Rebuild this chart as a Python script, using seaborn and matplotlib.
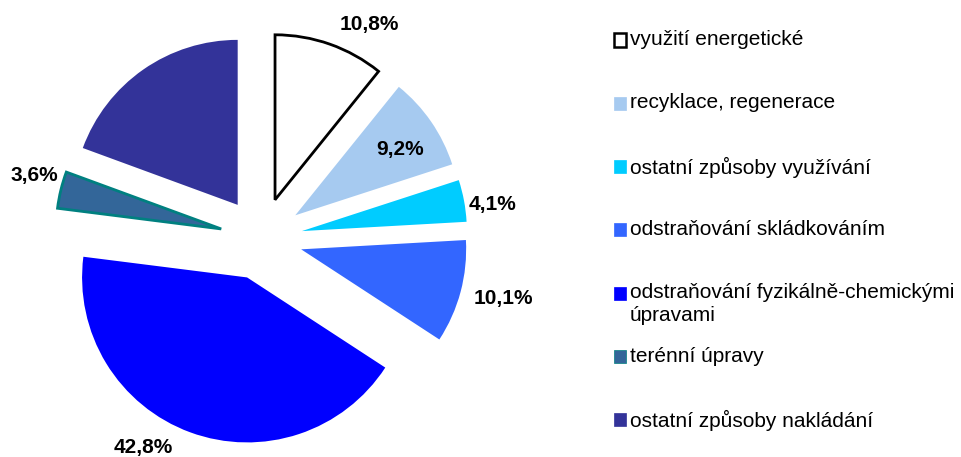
import matplotlib
matplotlib.use("Agg")
import matplotlib.pyplot as plt
import seaborn as sns
from matplotlib.patches import Rectangle

# Data
kategorie = ["využití energetické", "recyklace, regenerace", "ostatní způsoby využívání",
             "odstraňování skládkováním", "odstraňování fyzikálně-chemickými\núpravami",
             "terénní úpravy", "ostatní způsoby nakládání"]
podil = [10.8, 9.2, 4.1, 10.1, 42.8, 3.6, 19.4]
popisky = ["10,8%", "9,2%", "4,1%", "10,1%", "42,8%", "3,6%", ""]
barvy = ["#FFFFFF", "#A6CAF0", "#00CCFF", "#3366FF", "#0000FF", "#336699", "#333399"]
okraje = ["#000000", None, None, None, None, "#008080", None]

# pozice popisku (v jednotkach polomeru)
pozice_popisku = [(0.656, 1.301), (0.840, 0.538), (1.401, 0.210), (1.465, -0.365),
                  (-0.717, -1.266), (-1.377, 0.383), (0, 0)]

sns.set_theme(style="white")
plt.rcParams['font.family'] = ['Liberation Sans', 'DejaVu Sans']

fig = plt.figure(figsize=(9.61, 4.57), dpi=100)
W, H = 961, 457
R = 165
cx, cy = 261.3, 457 - 238.7
lim = 1.3
ax = fig.add_axes([(cx - lim * R) / W, (cy - lim * R) / H, 2 * lim * R / W, 2 * lim * R / H])

wedges, _ = ax.pie(podil, colors=barvy, startangle=90, counterclock=False,
                   explode=[0.25] * len(podil), radius=1)
for w, e in zip(wedges, okraje):
    if e is not None:
        w.set_edgecolor(e)
        w.set_linewidth(2)
        w.set_joinstyle('miter')
    else:
        w.set_linewidth(0)

for txt, (x, y) in zip(popisky, pozice_popisku):
    if txt:
        ax.text(x, y, txt, ha='center', va='center', fontsize=15, fontweight='bold', color='black')

ax.set_xlim(-lim, lim)
ax.set_ylim(-lim, lim)
ax.set_aspect('equal')
ax.axis('off')

# legenda
y0, krok = 40, 63.33
for i, (lab, c, e) in enumerate(zip(kategorie, barvy, okraje)):
    yc = y0 + i * krok
    fig.patches.append(Rectangle((613.5 / W, 1 - (yc + 6.5) / H), 12.5 / W, 13 / H,
                                 transform=fig.transFigure, facecolor=c,
                                 edgecolor=e if e is not None else c,
                                 linewidth=1.8 if i == 0 else 0.5))
    fig.text(630 / W, 1 - (yc - 10) / H, lab, ha='left', va='top', fontsize=15,
             color='black', linespacing=1.25)

fig.savefig("out.png", dpi=100)
